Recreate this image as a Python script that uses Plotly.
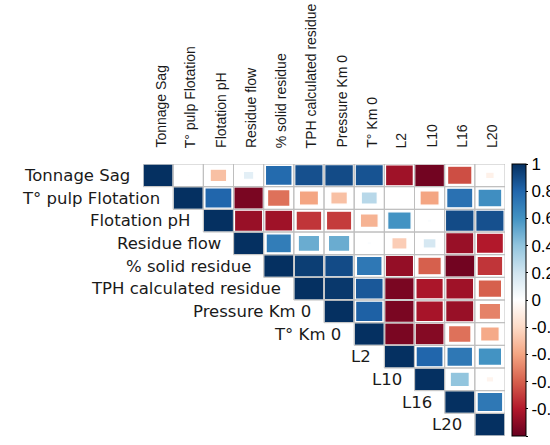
import numpy as np
import plotly.graph_objects as go
from plotly.colors import sample_colorscale

# Variables in matrix order
variables = [
    "Tonnage Sag", "T° pulp Flotation", "Flotation pH", "Residue flow",
    "% solid residue", "TPH calculated residue", "Pressure Km 0", "T° Km 0",
    "L2", "L10", "L16", "L20",
]

# Upper triangle of the correlation matrix, each row starting at the diagonal
row_tonnage = [1.00, 0.01, -0.30, 0.12, 0.78, 0.88, 0.90, 0.87, -0.85, -0.97, -0.65, -0.08]
row_tpulp = [1.00, 0.80, -0.95, -0.55, -0.40, -0.30, 0.28, 0.01, -0.40, 0.75, 0.62]
row_ph = [1.00, -0.87, -0.85, -0.72, -0.70, -0.35, 0.60, 0.02, 0.90, 0.88]
row_resflow = [1.00, 0.70, 0.50, 0.50, 0.02, -0.25, 0.18, -0.87, -0.80]
row_solid = [1.00, 0.95, 0.90, 0.72, -0.88, -0.60, -0.97, -0.72]
row_tph = [1.00, 0.97, 0.85, -0.95, -0.82, -0.85, -0.60]
row_pressure = [1.00, 0.82, -0.95, -0.83, -0.87, -0.50]
row_tkm = [1.00, -0.95, -0.92, -0.55, -0.38]
row_l2 = [1.00, 0.80, 0.72, 0.60]
row_l10 = [1.00, 0.40, -0.06]
row_l16 = [1.00, 0.72]
row_l20 = [1.00]

upper_rows = [row_tonnage, row_tpulp, row_ph, row_resflow, row_solid, row_tph,
              row_pressure, row_tkm, row_l2, row_l10, row_l16, row_l20]

colorbar_ticks = [1, 0.8, 0.6, 0.4, 0.2, 0, -0.2, -0.4, -0.6, -0.8, -1]
colorbar_labels = ["1", "0.8", "0.6", "0.4", "0.2", "0", "-0.2", "-0.4", "-0.6", "-0.8", "-1"]

# Diverging red-blue palette (-1 dark red ... +1 dark blue)
palette = ["#67001F", "#B2182B", "#D6604D", "#F4A582", "#FDDBC7", "#FFFFFF",
           "#D1E5F0", "#92C5DE", "#4393C3", "#2166AC", "#053061"]
colorscale = [[i / (len(palette) - 1), c] for i, c in enumerate(palette)]

n = len(variables)
cells_r, cells_c, cells_v = [], [], []
for i, row in enumerate(upper_rows):
    for k, v in enumerate(row):
        cells_r.append(i)
        cells_c.append(i + k)
        cells_v.append(v)

shapes = []
# Coloured squares, side proportional to sqrt(|r|)
for r, c, v in zip(cells_r, cells_c, cells_v):
    half = np.sqrt(abs(v)) / 2
    col = sample_colorscale(colorscale, [(v + 1) / 2])[0]
    shapes.append(dict(type="rect", xref="x", yref="y",
                       x0=c - half, x1=c + half, y0=r - half, y1=r + half,
                       fillcolor=col, line=dict(color="white", width=1.2),
                       layer="above"))
# Grey grid around each cell of the triangle
for r, c in zip(cells_r, cells_c):
    shapes.append(dict(type="rect", xref="x", yref="y",
                       x0=c - 0.5, x1=c + 0.5, y0=r - 0.5, y1=r + 0.5,
                       fillcolor="rgba(0,0,0,0)",
                       line=dict(color="#BEBEBE", width=1), layer="above"))

fig = go.Figure()
fig.add_trace(go.Scatter(
    x=cells_c, y=cells_r, mode="markers", hoverinfo="skip",
    marker=dict(color=cells_v, colorscale=colorscale, cmin=-1, cmax=1,
                opacity=0, size=1, showscale=True,
                colorbar=dict(
                    x=(512 - 143) / 362, xanchor="left", xpad=0,
                    y=0.5, yanchor="middle", len=1.0, lenmode="fraction",
                    ypad=0, thickness=14, outlinecolor="black", outlinewidth=1,
                    tickvals=colorbar_ticks, ticktext=colorbar_labels,
                    ticks="outside", ticklen=2, tickcolor="black",
                    tickfont=dict(family="Liberation Sans", size=17, color="black"),
                )),
    showlegend=False,
))

annotations = []
# Row labels, right-aligned against the diagonal cell
for i, name in enumerate(variables):
    annotations.append(dict(x=i - 0.5, y=i, xref="x", yref="y", text=name,
                            showarrow=False, xanchor="right", yanchor="middle",
                            xshift=-11,
                            font=dict(family="DejaVu Sans", size=16.5, color="#1a1a1a")))
# Column labels, rotated above the grid
for j, name in enumerate(variables):
    annotations.append(dict(x=j, y=-0.5, xref="x", yref="y", text=name,
                            showarrow=False, textangle=-90, xanchor="center",
                            yanchor="bottom", yshift=14, xshift=2,
                            font=dict(family="Liberation Sans", size=14, color="#1a1a1a")))

fig.update_layout(
    width=550, height=445,
    margin=dict(l=143, r=45, t=164, b=9, autoexpand=False),
    paper_bgcolor="white", plot_bgcolor="white",
    xaxis=dict(range=[-0.5, n - 0.5], visible=False, fixedrange=True),
    yaxis=dict(range=[n - 0.5, -0.5], visible=False, fixedrange=True),
    shapes=shapes, annotations=annotations,
)

fig.write_html("out.html")
